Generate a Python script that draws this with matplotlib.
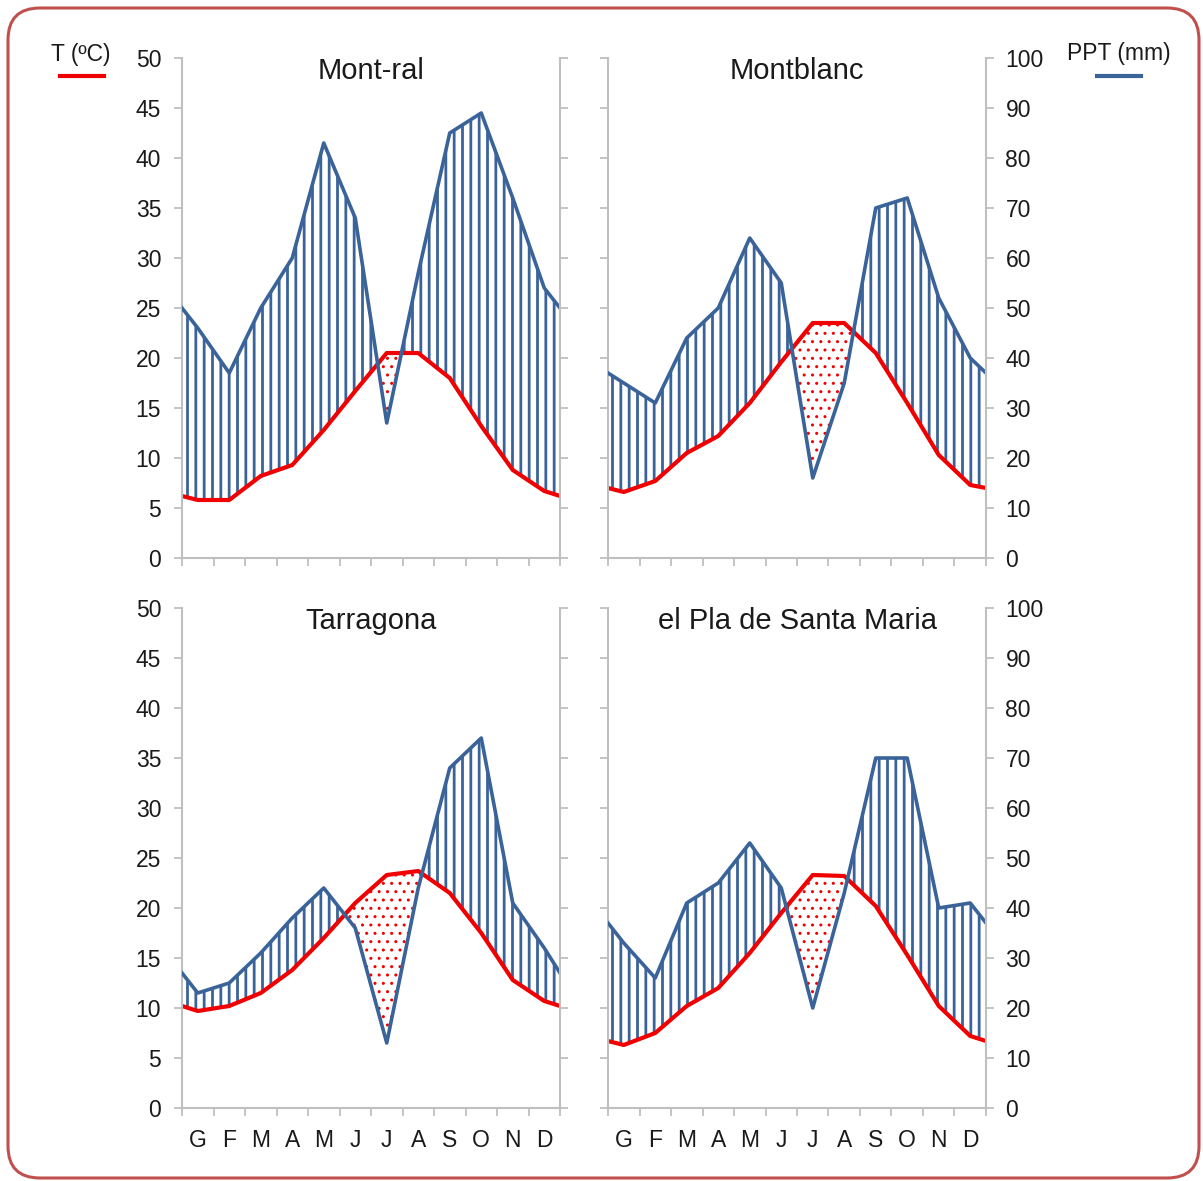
import numpy as np
import matplotlib
matplotlib.use('Agg')
import matplotlib.pyplot as plt
from matplotlib.patches import FancyBboxPatch
from matplotlib.lines import Line2D
from matplotlib.transforms import IdentityTransform

plt.rcParams['font.family'] = ['Liberation Sans', 'DejaVu Sans']
plt.rcParams['hatch.linewidth'] = 2.0

months = ['G', 'F', 'M', 'A', 'M', 'J', 'J', 'A', 'S', 'O', 'N', 'D']

# monthly values; first and last entries are the Dec/Jan values at the plot edges
t_montral = [6.2, 5.8, 5.8, 8.2, 9.3, 12.8, 16.7, 20.5, 20.5, 18.0, 13.2, 8.8, 6.7, 6.2]
ppt_montral = [50, 46, 37, 50, 60, 83, 68, 27, 57, 85, 89, 72, 54, 50]

t_montblanc = [7.0, 6.6, 7.7, 10.5, 12.2, 15.5, 19.6, 23.5, 23.5, 20.5, 15.5, 10.3, 7.3, 7.0]
ppt_montblanc = [37, 35, 31, 44, 50, 64, 55, 16, 35, 70, 72, 52, 40, 37]

t_tarragona = [10.2, 9.7, 10.2, 11.5, 13.8, 17.0, 20.5, 23.3, 23.7, 21.5, 17.5, 12.8, 10.7, 10.2]
ppt_tarragona = [27, 23, 25, 31, 38, 44, 36, 13, 44, 68, 74, 41, 32, 27]

t_pla = [6.7, 6.3, 7.5, 10.2, 12.0, 15.5, 19.5, 23.3, 23.2, 20.2, 15.3, 10.2, 7.2, 6.7]
ppt_pla = [37, 33, 26, 41, 45, 53, 44, 20, 43, 70, 70, 40, 41, 37]

stations = ['Mont-ral', 'Montblanc', 'Tarragona', 'el Pla de Santa Maria']

BLUE = '#3A6399'
RED = '#F00000'
GREY = '#BFBFBF'
TXT = '#1A1A1A'

FW, FH = 1203, 1181
# x positions: edge, month centres, edge
x = np.concatenate([[0], np.arange(len(months)) + 0.5, [len(months)]])

fig = plt.figure(figsize=(FW / 100, FH / 100), dpi=100)


def thin_hatch(artist, lw):
    # keep the dot hatch thinner than the line hatch
    orig = artist.draw

    def draw(renderer):
        with plt.rc_context({'hatch.linewidth': lw}):
            orig(renderer)
    artist.draw = draw


def panel(left, top, name, temp, ppt, show_left, show_right, show_months):
    w, h = 378, 500
    ax = fig.add_axes([left / FW, 1 - (top + h) / FH, w / FW, h / FH])
    temp = np.array(temp, dtype=float)
    ppt = np.array(ppt, dtype=float)
    half = ppt / 2  # Gaussen scale P = 2T

    # humid period: vertical lines, dry period: red dots
    plt.rcParams['hatch.linewidth'] = 2.0
    ax.fill_between(x, temp, half, where=half >= temp, interpolate=True,
                    facecolor='none', edgecolor=BLUE, hatch='||', linewidth=0)
    plt.rcParams['hatch.linewidth'] = 1.0
    dry = ax.fill_between(x, temp, half, where=temp > half, interpolate=True,
                          facecolor='none', edgecolor=RED, hatch='..', linewidth=0)
    plt.rcParams['hatch.linewidth'] = 2.0
    thin_hatch(dry, 1.0)

    ax.plot(x, temp, color=RED, lw=3, solid_joinstyle='round')
    ax.set_xlim(0, len(months))
    ax.set_ylim(0, 50)
    ax.set_yticks(range(0, 51, 5))
    ax.set_xticks(range(len(months) + 1))
    ax.set_xticks(x[1:-1], minor=True)
    ax.set_xticklabels(months if show_months else [''] * len(months), minor=True)
    ax.tick_params(axis='x', which='major', length=6, width=1.3, color=GREY,
                   labelbottom=False)
    ax.tick_params(axis='x', which='minor', length=0, pad=15, labelsize=16.5,
                   labelcolor=TXT, labelbottom=show_months)
    ax.tick_params(axis='y', length=6, width=1.3, color=GREY, pad=9,
                   labelsize=16.5, labelcolor=TXT, labelleft=show_left)
    for s in ['top', 'right']:
        ax.spines[s].set_visible(False)
    for s in ['left', 'bottom']:
        ax.spines[s].set_color(GREY)
        ax.spines[s].set_linewidth(1.5)

    ax2 = ax.twinx()
    ax2.plot(x, ppt, color=BLUE, lw=2.6, solid_joinstyle='round')
    ax2.set_ylim(0, 100)
    ax2.set_yticks(range(0, 101, 10))
    ax2.tick_params(axis='y', length=6, width=1.3, color=GREY, pad=8,
                    labelsize=16.5, labelcolor=TXT, labelright=show_right)
    for s in ['top', 'left', 'bottom']:
        ax2.spines[s].set_visible(False)
    ax2.spines['right'].set_color(GREY)
    ax2.spines['right'].set_linewidth(1.5)

    ax.text(0.5, 0.958, name, transform=ax.transAxes, ha='center', va='baseline',
            fontsize=21, color=TXT)


panel(182, 58, stations[0], t_montral, ppt_montral, True, False, False)
panel(608, 58, stations[1], t_montblanc, ppt_montblanc, False, True, False)
panel(182, 608, stations[2], t_tarragona, ppt_tarragona, True, False, True)
panel(608, 608, stations[3], t_pla, ppt_pla, False, True, True)

# legend marks
fig.text(81 / FW, 1 - 61 / FH, 'T (ºC)', ha='center', va='baseline', fontsize=16.5, color=TXT)
fig.add_artist(Line2D([60 / FW, 104 / FW], [1 - 75.5 / FH] * 2, color=RED, lw=3,
                      transform=fig.transFigure))
fig.text(1119 / FW, 1 - 60 / FH, 'PPT (mm)', ha='center', va='baseline', fontsize=16.5, color=TXT)
fig.add_artist(Line2D([1097 / FW, 1141 / FW], [1 - 76 / FH] * 2, color=BLUE, lw=3,
                      transform=fig.transFigure))

# rounded frame
frame = FancyBboxPatch((8, FH - 1178), 1191, 1170,
                       boxstyle='round,pad=0,rounding_size=32',
                       transform=IdentityTransform(), fill=False,
                       edgecolor='#C0504D', linewidth=2.2)
fig.add_artist(frame)

fig.savefig('out.png', dpi=100)
